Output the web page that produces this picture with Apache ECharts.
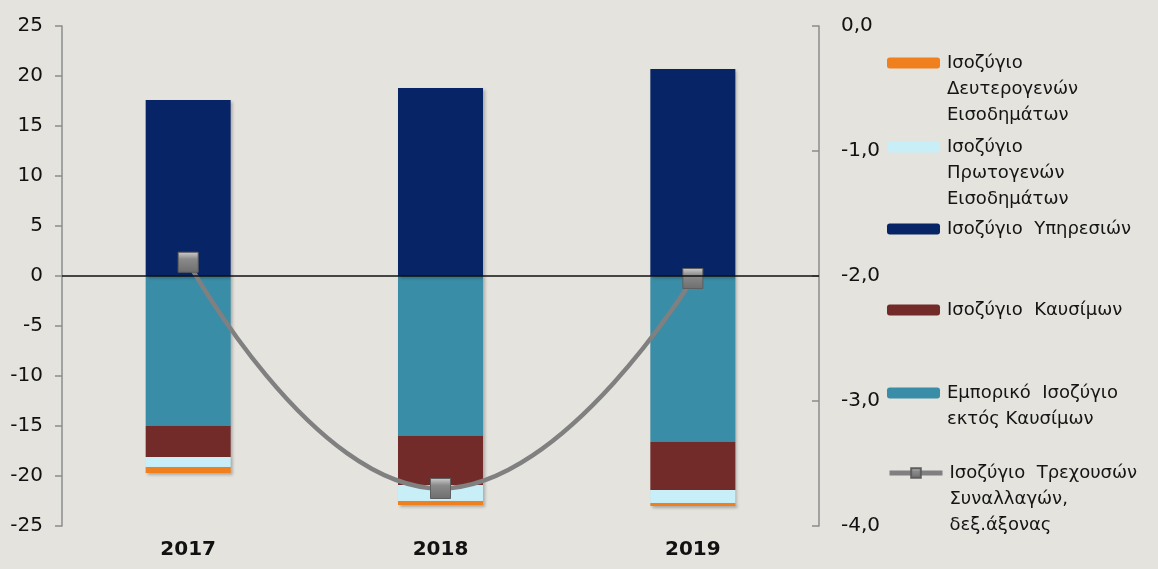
<!DOCTYPE html>
<html>
<head>
<meta charset="utf-8">
<script src="https://cdn.jsdelivr.net/npm/echarts@6/dist/echarts.min.js"></script>
<style>
html,body{margin:0;padding:0;background:#e4e3de;}
#c{width:1158px;height:569px;}
</style>
</head>
<body>
<div id="c"></div>
<script>
var categories = ['2017', '2018', '2019'];
var tradeExFuel = [-15.0, -16.0, -16.6];
var fuelBalance = [-3.1, -4.9, -4.8];
var servicesBalance = [17.6, 18.8, 20.7];
var primaryIncome = [-1.0, -1.6, -1.3];
var secondaryIncome = [-0.6, -0.4, -0.3];
var currentAccount = [-1.89, -3.70, -2.02];
var leftTicks = {min: -25, max: 25, interval: 5};
var rightTicks = {min: -4, max: 0, interval: 1};

var names = {
  sec: 'Ισοζύγιο\nΔευτερογενών\nΕισοδημάτων',
  prim: 'Ισοζύγιο\nΠρωτογενών\nΕισοδημάτων',
  serv: 'Ισοζύγιο  Υπηρεσιών',
  fuel: 'Ισοζύγιο  Καυσίμων',
  trade: 'Εμπορικό  Ισοζύγιο\nεκτός Καυσίμων',
  ca: 'Ισοζύγιο  Τρεχουσών\nΣυναλλαγών,\nδεξ.άξονας'
};
var colors = {
  trade: '#3a8da7', fuel: '#722b29', serv: '#072466',
  prim: '#c8eef8', sec: '#f07f1d', ca: '#808080'
};
var LH = 26;
var font = '"DejaVu Sans", "Liberation Sans", Arial, sans-serif';

function legendFor(key, centerY) {
  var n = names[key].split('\n').length;
  var total = 2 * n - 1;
  return {
    data: [names[key]],
    left: 887,
    top: centerY - total * LH / 2,
    padding: 0,
    itemWidth: 53,
    itemHeight: key === 'ca' ? 12 : 11,
    itemGap: 0,
    selectedMode: false,
    lineStyle: {width: 5},
    formatter: function (name) {
      var pre = '';
      for (var i = 1; i < n; i++) pre += ' \n';
      return pre + name;
    },
    textStyle: {
      fontFamily: font, fontSize: 18, color: '#151515', lineHeight: LH,
      padding: [0, 0, 0, 2]
    }
  };
}

var shadow = {shadowColor: 'rgba(0,0,0,0.25)', shadowBlur: 3, shadowOffsetX: 2, shadowOffsetY: 2};
function barSeries(key, data) {
  return {
    name: names[key], type: 'bar', stack: 'bal', data: data,
    barWidth: 85,
    itemStyle: Object.assign({color: colors[key]}, shadow)
  };
}

var chart = echarts.init(document.getElementById('c'), null, {renderer: 'canvas'});
var zeroSeries = barSeries('trade', tradeExFuel);
zeroSeries.markLine = {
  silent: true, symbol: 'none', label: {show: false},
  lineStyle: {color: '#111', width: 1.5, type: 'solid'},
  data: [{yAxis: 0}], z: 10
};
chart.setOption({
  backgroundColor: '#e4e3de',
  animation: false,
  legend: [
    legendFor('sec', 63),
    legendFor('prim', 147),
    legendFor('serv', 229),
    legendFor('fuel', 310),
    legendFor('trade', 393),
    legendFor('ca', 473)
  ],
  grid: {left: 62, right: 1158 - 819, top: 26, bottom: 569 - 526, containLabel: false},
  xAxis: {
    type: 'category', data: categories,
    axisLine: {show: false}, axisTick: {show: false},
    axisLabel: {fontFamily: font, fontSize: 20, fontWeight: 'bold', color: '#111', margin: 14}
  },
  yAxis: [{
    type: 'value', min: leftTicks.min, max: leftTicks.max, interval: leftTicks.interval,
    axisLine: {show: true, lineStyle: {color: '#8c8c8c', width: 1.5}},
    axisTick: {show: true, length: 7, lineStyle: {color: '#8c8c8c', width: 1.5}},
    splitLine: {show: false},
    axisLabel: {fontFamily: font, fontSize: 20, color: '#111', margin: 19}
  }, {
    type: 'value', position: 'right', min: rightTicks.min, max: rightTicks.max, interval: rightTicks.interval,
    axisLine: {show: true, lineStyle: {color: '#8c8c8c', width: 1.5}},
    axisTick: {show: true, inside: true, length: 7, lineStyle: {color: '#8c8c8c', width: 1.5}},
    splitLine: {show: false},
    axisLabel: {fontFamily: font, fontSize: 20, color: '#111', margin: 22,
      formatter: function (v) { return v.toFixed(1).replace('.', ','); }}
  }],
  series: [
    zeroSeries,
    barSeries('fuel', fuelBalance),
    barSeries('serv', servicesBalance),
    barSeries('prim', primaryIncome),
    barSeries('sec', secondaryIncome),
    {
      name: names.ca, type: 'line', yAxisIndex: 1, data: currentAccount,
      smooth: 0.5, z: 5,
      lineStyle: {color: '#808080', width: 4.5},
      symbol: 'rect', symbolSize: 20, showSymbol: true,
      itemStyle: {
        color: new echarts.graphic.LinearGradient(0, 0, 0, 1, [
          {offset: 0, color: '#d0d0d0'}, {offset: 0.35, color: '#8a8a8a'}, {offset: 1, color: '#6e6e6e'}
        ]),
        borderColor: '#5e5e5e', borderWidth: 1
      }
    }
  ]
});
</script>
</body>
</html>
